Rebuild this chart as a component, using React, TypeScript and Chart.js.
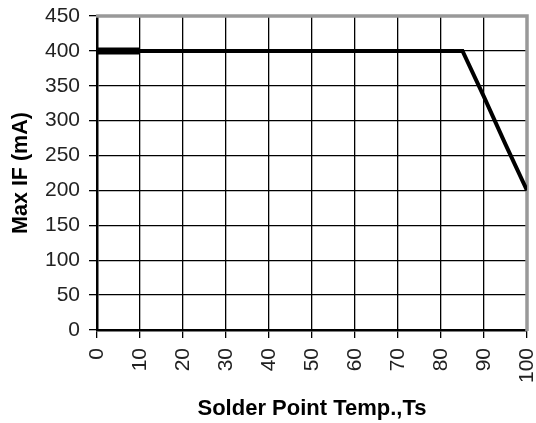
import React, { useEffect, useRef } from "react";
import { Chart, registerables } from "chart.js";

Chart.register(...registerables);

const tempC = [0, 85, 90, 95, 100];
const maxIF = [400, 400, 334, 266, 200];
const thickTemp = [0, 10];
const thickIF = [400, 400];
const xTitle = "Solder Point Temp.,Ts";
const yTitle = "Max IF (mA)";

const plotBorder = {
  id: "plotBorder",
  beforeDatasetsDraw(chart: any) {
    const { ctx, chartArea } = chart;
    const { left, right, top, bottom } = chartArea;
    ctx.save();
    ctx.strokeStyle = "#999999";
    ctx.lineWidth = 3.5;
    ctx.beginPath();
    ctx.moveTo(left - 1, top);
    ctx.lineTo(right, top);
    ctx.lineTo(right, bottom + 1);
    ctx.stroke();
    ctx.restore();
  },
};

export default function App() {
  const ref = useRef<HTMLCanvasElement | null>(null);
  useEffect(() => {
    if (!ref.current) return;
    const font = "'Liberation Sans', Arial, sans-serif";
    const chart = new Chart(ref.current, {
      type: "line",
      data: {
        datasets: [
          {
            data: tempC.map((x, i) => ({ x, y: maxIF[i] })),
            borderColor: "#000",
            borderWidth: 4,
            pointRadius: 0,
            tension: 0,
          },
          {
            data: thickTemp.map((x, i) => ({ x, y: thickIF[i] })),
            borderColor: "#000",
            borderWidth: 7,
            pointRadius: 0,
            tension: 0,
          },
        ],
      },
      options: {
        animation: false,
        responsive: false,
        layout: { padding: { top: 16, right: 9, left: 0, bottom: 0 } },
        plugins: {
          legend: { display: false },
          tooltip: { enabled: false },
        },
        scales: {
          x: {
            type: "linear",
            min: 0,
            max: 100,
            afterFit(scale: any) {
              scale.height = 93;
              scale.paddingRight = 0;
              scale.paddingLeft = 0;
            },
            ticks: {
              stepSize: 10,
              minRotation: 90,
              maxRotation: 90,
              padding: 10,
              color: "#222",
              font: { family: font, size: 21 },
            },
            grid: { color: "#000", lineWidth: 1.3, tickLength: 8 },
            border: { color: "#000", width: 2.5 },
            title: {
              display: true,
              text: xTitle,
              color: "#000",
              font: { family: font, size: 22, weight: "bold" },
              padding: { top: 0, bottom: 1 },
            },
          },
          y: {
            min: 0,
            max: 450,
            afterFit(scale: any) {
              scale.width = 97;
              scale.paddingTop = 0;
              scale.paddingBottom = 0;
            },
            ticks: {
              stepSize: 50,
              padding: 9,
              color: "#222",
              font: { family: font, size: 21 },
            },
            grid: { color: "#000", lineWidth: 1.3, tickLength: 8 },
            border: { color: "#000", width: 2.5 },
            title: {
              display: true,
              text: yTitle,
              color: "#000",
              font: { family: font, size: 21.5, weight: "bold" },
              padding: { top: 8, bottom: 0 },
            },
          },
        },
      },
      plugins: [plotBorder],
    });
    return () => chart.destroy();
  }, []);
  return (
    <div style={{ position: "fixed", left: 0, top: 0, width: 536, height: 423, background: "#fff" }}>
      <canvas ref={ref} width={536} height={423} style={{ width: 536, height: 423 }} />
    </div>
  );
}
